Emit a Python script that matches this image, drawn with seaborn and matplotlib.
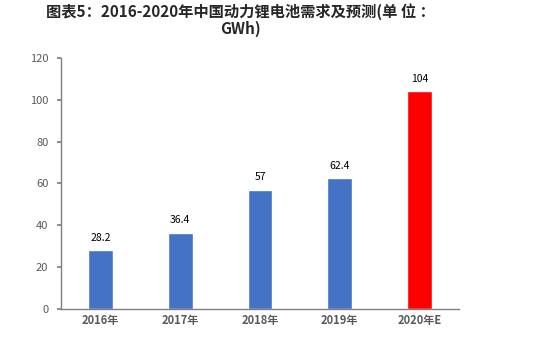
import matplotlib
matplotlib.use("Agg")
import matplotlib.pyplot as plt
import seaborn as sns
import pandas as pd

years = ["2016年", "2017年", "2018年", "2019年", "2020年E"]
demand = [28.2, 36.4, 57, 62.4, 104]
value_labels = ["28.2", "36.4", "57", "62.4", "104"]
bar_colors = ["#4472C4", "#4472C4", "#4472C4", "#4472C4", "#FF0000"]
y_ticks = [0, 20, 40, 60, 80, 100, 120]

sns.set_theme(style="white")
plt.rcParams['font.family'] = ['Noto Sans CJK SC', 'DejaVu Sans']

df = pd.DataFrame({"year": years, "demand": demand})

fig = plt.figure(figsize=(5.58, 3.51), dpi=100)
ax = fig.add_axes([0.109, 0.12, 0.714, 0.715])
sns.barplot(data=df, x="year", y="demand", hue="year", palette=bar_colors,
            legend=False, width=0.31, ax=ax, saturation=1)

ax.set_ylim(0, 120)
ax.set_yticks(y_ticks)
ax.set_xlim(-0.5, 4.5)
ax.set_xlabel("")
ax.set_ylabel("")
for s in ["top", "right"]:
    ax.spines[s].set_visible(False)
for s in ["left", "bottom"]:
    ax.spines[s].set_color("#808080")
    ax.spines[s].set_linewidth(1.0)
ax.tick_params(axis="y", left=True, length=3, color="#808080", labelsize=8,
               labelcolor="#595959", pad=6)
ax.tick_params(axis="x", bottom=False, labelsize=8, labelcolor="#595959", pad=-2)
for lbl in ax.get_xticklabels():
    lbl.set_fontweight("bold")

for i, (v, t) in enumerate(zip(demand, value_labels)):
    ax.text(i, v + 3.5, t, ha="center", va="bottom", fontsize=7.5, color="#000000")

fig.text(0.43, 0.99, "图表5：2016-2020年中国动力锂电池需求及预测(单 位 ：\nGWh)",
         ha="center", va="top", fontsize=11, fontweight="bold", color="#262626",
         linespacing=1.0)

fig.savefig("out.png", dpi=100)
